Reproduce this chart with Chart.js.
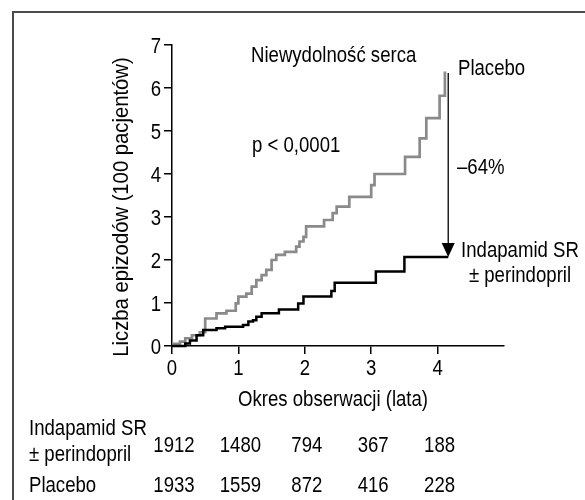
<!DOCTYPE html>
<html>
<head>
<meta charset="utf-8">
<script src="https://cdn.jsdelivr.net/npm/chart.js@4.4.0/dist/chart.umd.min.js"></script>
<style>
  html, body { margin: 0; padding: 0; background: #fff; }
  #wrap { position: relative; width: 585px; height: 500px; }
</style>
</head>
<body>
<div id="wrap"><canvas id="chart" width="585" height="500"></canvas></div>
<script>
const xTicks = [0, 1, 2, 3, 4];
const yTicks = [0, 1, 2, 3, 4, 5, 6, 7];

// Kaplan-Meier style cumulative curves (years, events per 100 patients)
const placeboYears = [0, 0.12, 0.2, 0.3, 0.42, 0.5, 0.67, 0.82, 0.96, 1.0, 1.12, 1.2, 1.27, 1.35, 1.42, 1.5, 1.57, 1.7, 1.87, 1.92, 1.98, 2.02, 2.29, 2.42, 2.48, 2.67, 3.0, 3.05, 3.51, 3.73, 3.83, 4.03, 4.11, 4.13];
const placeboValues = [0.05, 0.1, 0.18, 0.25, 0.32, 0.64, 0.76, 0.82, 0.99, 1.15, 1.22, 1.38, 1.53, 1.65, 1.77, 2.0, 2.12, 2.19, 2.31, 2.43, 2.54, 2.78, 2.93, 3.09, 3.24, 3.47, 3.74, 4.0, 4.4, 4.83, 5.3, 5.82, 6.35, 6.35];
const indapYears = [0, 0.2, 0.27, 0.37, 0.47, 0.67, 0.8, 1.07, 1.15, 1.22, 1.27, 1.35, 1.61, 1.9, 1.98, 2.4, 2.45, 3.07, 3.5, 4.16];
const indapValues = [0, 0.06, 0.13, 0.25, 0.37, 0.41, 0.45, 0.49, 0.57, 0.6, 0.68, 0.76, 0.85, 0.99, 1.15, 1.28, 1.47, 1.73, 2.07, 2.07];

const atRiskIndap = [1912, 1480, 794, 367, 188];
const atRiskPlacebo = [1933, 1559, 872, 416, 228];

// no narrow font installed, so squeeze Liberation Sans to look like Arial Narrow
const FONT = '"Liberation Sans", Arimo, sans-serif';
const NARROW = 0.845;

function narrowText(ctx, text, x, y, align, angle, squeeze) {
  ctx.save();
  ctx.translate(x, y);
  if (angle) ctx.rotate(angle);
  ctx.scale(squeeze || NARROW, 1);
  ctx.textAlign = align || "left";
  ctx.fillText(text, 0, 0);
  ctx.restore();
}

const toPoints = (xs, ys) => xs.map((x, i) => ({ x: x, y: ys[i] }));

const annotations = {
  id: "annotations",
  afterDraw(chart) {
    const ctx = chart.ctx;
    const x = chart.scales.x;
    const y = chart.scales.y;
    ctx.save();

    // frame
    ctx.strokeStyle = "#4a4a4a";
    ctx.lineWidth = 2;
    ctx.beginPath();
    ctx.moveTo(13, 500);
    ctx.lineTo(13, 12);
    ctx.lineTo(585, 12);
    ctx.stroke();

    ctx.fillStyle = "#000";
    ctx.font = "22px " + FONT;
    ctx.textBaseline = "alphabetic";

    // tick labels
    yTicks.forEach((v) => narrowText(ctx, String(v), 161, y.getPixelForValue(v) + 7.8, "right"));
    xTicks.forEach((t) => narrowText(ctx, String(t), x.getPixelForValue(t), 375, "center"));

    narrowText(ctx, "Niewydolność serca", 251, 61.5);
    narrowText(ctx, "p < 0,0001", 252, 151.5);
    narrowText(ctx, "Placebo", 458, 75);
    narrowText(ctx, "–64%", 457, 173.5);
    narrowText(ctx, "Indapamid SR", 520, 256.5, "center");
    narrowText(ctx, "± perindopril", 520, 282, "center");

    // arrow placebo -> indapamid
    const ax = x.getPixelForValue(indapYears[indapYears.length - 1]);
    const top = y.getPixelForValue(placeboValues[placeboValues.length - 1]);
    const tip = y.getPixelForValue(indapValues[indapValues.length - 1]);
    ctx.strokeStyle = "#000";
    ctx.lineWidth = 1.3;
    ctx.beginPath();
    ctx.moveTo(ax, top);
    ctx.lineTo(ax, tip - 12);
    ctx.stroke();
    ctx.beginPath();
    ctx.moveTo(ax - 6.5, tip - 14);
    ctx.lineTo(ax + 6.5, tip - 14);
    ctx.lineTo(ax, tip);
    ctx.closePath();
    ctx.fill();

    // axis titles
    narrowText(ctx, "Okres obserwacji (lata)", 333, 405.5, "center");
    narrowText(ctx, "Liczba epizodów (100 pacjentów)", 127.5, 207, "center", -Math.PI / 2, 0.92);

    // numbers at risk
    narrowText(ctx, "Indapamid SR", 29, 435);
    narrowText(ctx, "± perindopril", 29, 461);
    narrowText(ctx, "Placebo", 29, 492);
    xTicks.forEach((t, i) => {
      const px = x.getPixelForValue(t) + 2;
      narrowText(ctx, String(atRiskIndap[i]), px, 452, "center");
      narrowText(ctx, String(atRiskPlacebo[i]), px, 492, "center");
    });

    ctx.restore();
  },
};

const ctx = document.getElementById("chart").getContext("2d");

new Chart(ctx, {
  type: "line",
  data: {
    datasets: [
      {
        label: "Indapamid SR ± perindopril",
        data: toPoints(indapYears, indapValues),
        borderColor: "#000000",
        borderWidth: 2.5,
        stepped: "before",
        pointRadius: 0,
        fill: false,
        clip: 8,
      },
      {
        label: "Placebo",
        data: toPoints(placeboYears, placeboValues),
        borderColor: "#8a8a8a",
        borderWidth: 2.7,
        stepped: "before",
        pointRadius: 0,
        fill: false,
        clip: 8,
      },
    ],
  },
  options: {
    responsive: false,
    animation: false,
    devicePixelRatio: 1,
    layout: {
      padding: { top: 45, right: 81, bottom: 0, left: 0 },
    },
    plugins: {
      legend: { display: false },
      tooltip: { enabled: false },
      title: { display: false },
    },
    scales: {
      x: {
        type: "linear",
        min: 0,
        max: 5,
        afterBuildTicks: (s) => { s.ticks = xTicks.map((v) => ({ value: v })); },
        afterFit: (s) => { s.height = 154; },
        ticks: { color: "rgba(0,0,0,0)", maxRotation: 0 },
        grid: {
          drawOnChartArea: false,
          drawTicks: true,
          tickLength: 8,
          color: "#000",
          lineWidth: 1.5,
        },
        border: { display: true, color: "#000", width: 1.5 },
      },
      y: {
        min: 0,
        max: 7,
        afterBuildTicks: (s) => { s.ticks = yTicks.map((v) => ({ value: v })); },
        afterFit: (s) => { s.width = 172; },
        ticks: { color: "rgba(0,0,0,0)" },
        grid: {
          drawOnChartArea: false,
          drawTicks: true,
          tickLength: 8,
          color: "#000",
          lineWidth: 1.5,
        },
        border: { display: true, color: "#000", width: 1.5 },
      },
    },
  },
  plugins: [annotations],
});
</script>
</body>
</html>
